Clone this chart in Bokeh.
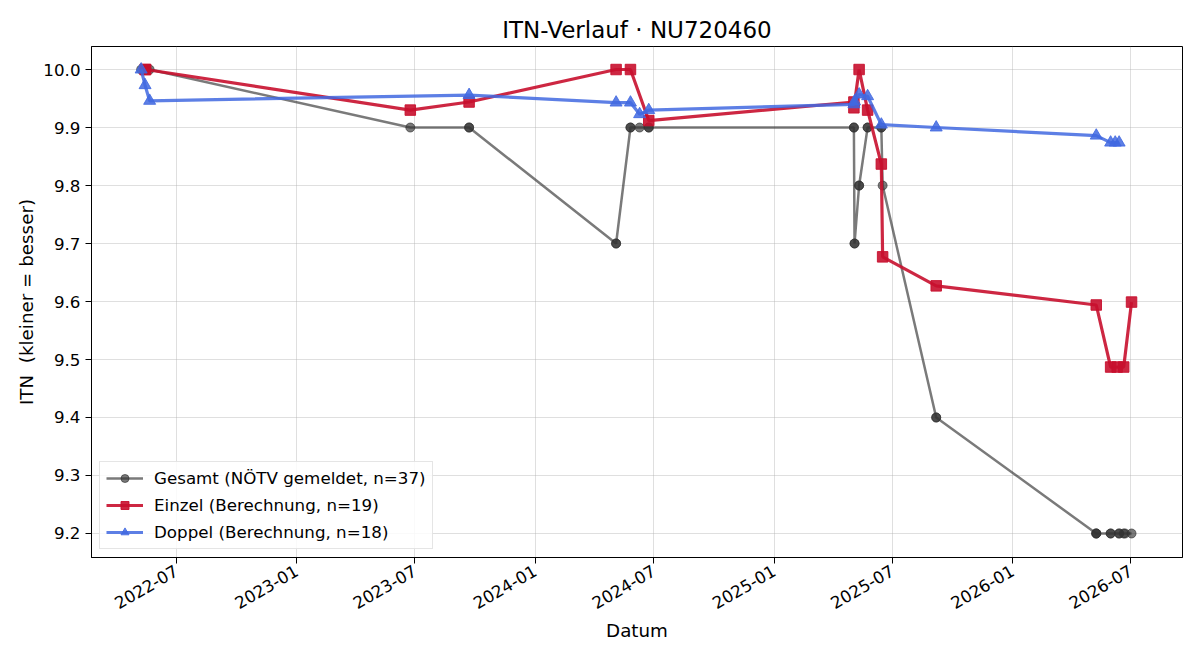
import math
import pandas as pd
from datetime import datetime
from bokeh.plotting import figure
from bokeh.models import (ColumnDataSource, Range1d, FixedTicker, PrintfTickFormatter,
                          DatetimeTickFormatter, Legend, LegendItem)
from bokeh.embed import file_html
from bokeh.resources import INLINE

# ---------------- data ----------------
gesamt_dates = ["2022-05-08", "2022-05-14", "2022-05-15", "2022-05-21",
                "2023-06-24", "2023-09-22", "2023-09-22",
                "2024-05-04", "2024-05-04", "2024-05-26", "2024-05-26", "2024-06-09",
                "2024-06-23", "2024-06-23",
                "2025-05-03", "2025-05-03", "2025-05-04", "2025-05-04", "2025-05-11",
                "2025-05-11", "2025-05-24", "2025-05-24", "2025-06-14", "2025-06-14",
                "2025-06-16",
                "2025-09-06", "2025-09-06",
                "2026-05-09", "2026-05-09", "2026-05-09", "2026-05-31", "2026-05-31",
                "2026-06-13", "2026-06-13", "2026-06-20", "2026-06-22", "2026-07-02"]
gesamt_itn = [10.0, 10.0, 10.0, 10.0,
              9.9, 9.9, 9.9,
              9.7, 9.7, 9.9, 9.9, 9.9,
              9.9, 9.9,
              9.9, 9.9, 9.7, 9.7, 9.8,
              9.8, 9.9, 9.9, 9.9, 9.9,
              9.8,
              9.4, 9.4,
              9.2, 9.2, 9.2, 9.2, 9.2,
              9.2, 9.2, 9.2, 9.2, 9.2]

einzel_dates = ["2022-05-14", "2022-05-15", "2023-06-24", "2023-09-22",
                "2024-05-04", "2024-05-26", "2024-06-23",
                "2025-05-03", "2025-05-03", "2025-05-11", "2025-05-24",
                "2025-06-14", "2025-06-16", "2025-09-06",
                "2026-05-09", "2026-05-31", "2026-06-10", "2026-06-20", "2026-07-02"]
einzel_itn = [10.0, 10.0, 9.930, 9.944,
              10.0, 10.0, 9.912,
              9.944, 9.934, 10.0, 9.930,
              9.837, 9.677, 9.627,
              9.594, 9.487, 9.487, 9.487, 9.599]

doppel_dates = ["2022-05-08", "2022-05-14", "2022-05-21", "2023-09-22",
                "2024-05-04", "2024-05-26", "2024-06-09", "2024-06-23",
                "2025-05-03", "2025-05-04", "2025-05-11", "2025-05-24",
                "2025-06-14", "2025-09-06",
                "2026-05-09", "2026-05-31", "2026-06-07", "2026-06-13"]
doppel_itn = [10.0, 9.973, 9.946, 9.956,
              9.943, 9.943, 9.923, 9.930,
              9.940, 9.945, 9.957, 9.954,
              9.905, 9.900,
              9.886, 9.874, 9.874, 9.874]

x_tick_dates = ["2022-07-01", "2023-01-01", "2023-07-01", "2024-01-01", "2024-07-01",
                "2025-01-01", "2025-07-01", "2026-01-01", "2026-07-01"]
y_ticks = [9.2, 9.3, 9.4, 9.5, 9.6, 9.7, 9.8, 9.9, 10.0]

labels = ["Gesamt (NÖTV gemeldet, n=37)", "Einzel (Berechnung, n=19)", "Doppel (Berechnung, n=18)"]
title_text = "ITN-Verlauf · NU720460"
x_label = "Datum"
y_label = "ITN\u00a0 (kleiner = besser)"

FONT = "DejaVu Sans"

src_g = ColumnDataSource(dict(x=pd.to_datetime(gesamt_dates), y=gesamt_itn))
src_e = ColumnDataSource(dict(x=pd.to_datetime(einzel_dates), y=einzel_itn))
src_d = ColumnDataSource(dict(x=pd.to_datetime(doppel_dates), y=doppel_itn))

p = figure(width=1200, height=660, x_axis_type="datetime",
           x_range=Range1d(datetime(2022, 2, 21), datetime(2026, 9, 18)),
           y_range=Range1d(9.1586, 10.0397),
           output_backend="svg", toolbar_location=None,
           min_border_left=91, min_border_right=18, min_border_top=46, min_border_bottom=103,
           title=title_text)

p.title.text_font = FONT
p.title.text_font_size = "23px"
p.title.text_font_style = "normal"
p.title.text_color = "black"
p.title.align = "center"
p.title.standoff = 8

p.outline_line_color = "black"
p.outline_line_width = 1
p.outline_line_alpha = 1
p.background_fill_color = "white"
p.border_fill_color = "white"

# grid
for g in (p.xgrid, p.ygrid):
    g.grid_line_color = "#b0b0b0"
    g.grid_line_alpha = 0.4
    g.grid_line_width = 1

# axes
tick_ms = [pd.Timestamp(d).value / 1e6 for d in x_tick_dates]
p.xaxis.ticker = FixedTicker(ticks=tick_ms)
fmt = "%Y-%m"
p.xaxis.formatter = DatetimeTickFormatter(years=fmt, months=fmt, days=fmt, hours=fmt,
                                          minutes=fmt, seconds=fmt, milliseconds=fmt,
                                          microseconds=fmt, hourmin=fmt, minsec=fmt)
p.xaxis.major_label_orientation = math.pi / 6
p.yaxis.ticker = FixedTicker(ticks=y_ticks)
p.yaxis.formatter = PrintfTickFormatter(format="%.1f")

for ax in (p.xaxis[0], p.yaxis[0]):
    ax.axis_line_color = "black"
    ax.major_tick_line_color = "black"
    ax.major_tick_out = 6
    ax.major_tick_in = 0
    ax.minor_tick_line_color = None
    ax.major_label_text_font = FONT
    ax.major_label_text_font_size = "16.7px"
    ax.major_label_text_color = "black"
    ax.axis_label_text_font = FONT
    ax.axis_label_text_font_size = "18.3px"
    ax.axis_label_text_font_style = "normal"
    ax.axis_label_text_color = "black"

p.xaxis.major_label_standoff = 6
p.yaxis.major_label_standoff = 5
p.xaxis.axis_label = x_label
p.yaxis.axis_label = y_label
p.xaxis.axis_label_standoff = 2
p.yaxis.axis_label_standoff = 3

# series
gray = "#333333"
red = "#c8102e"
blue = "#4169e1"

lg = p.line("x", "y", source=src_g, line_color=gray, line_alpha=0.65, line_width=2.5)
sg = p.scatter("x", "y", source=src_g, marker="circle", size=9,
               fill_color=gray, line_color=gray, fill_alpha=0.65, line_alpha=0.65)

le = p.line("x", "y", source=src_e, line_color=red, line_alpha=0.9, line_width=3.2)
se = p.scatter("x", "y", source=src_e, marker="square", size=10.5,
               fill_color=red, line_color=red, fill_alpha=0.9, line_alpha=0.9)

ld = p.line("x", "y", source=src_d, line_color=blue, line_alpha=0.85, line_width=3.2)
sd = p.scatter("x", "y", source=src_d, marker="triangle", size=12,
               fill_color=blue, line_color=blue, fill_alpha=0.85, line_alpha=0.85)

legend = Legend(items=[LegendItem(label=labels[0], renderers=[lg, sg]),
                       LegendItem(label=labels[1], renderers=[le, se]),
                       LegendItem(label=labels[2], renderers=[ld, sd])],
                location="bottom_left")
legend.label_text_font = FONT
legend.label_text_font_size = "16.7px"
legend.label_text_color = "black"
legend.label_height = 20
legend.glyph_width = 37
legend.glyph_height = 20
legend.label_standoff = 11
legend.spacing = 7
legend.padding = 6
legend.margin = 8
legend.border_line_color = "#cccccc"
legend.border_line_width = 1
legend.background_fill_alpha = 0.85
p.add_layout(legend)

open("out.html", "w").write(file_html(p, INLINE))
